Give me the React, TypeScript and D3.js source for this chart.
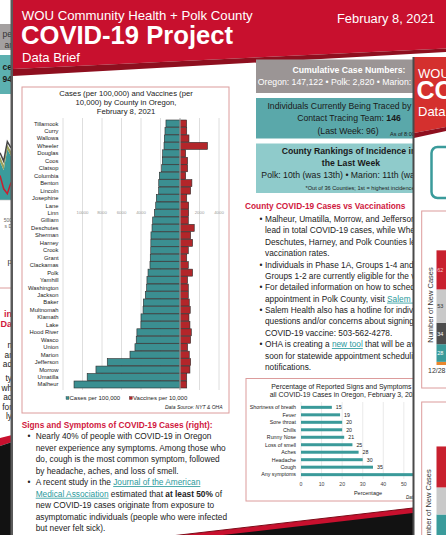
import React from "react";
import * as d3 from "d3";

// ---- county chart data ----
const counties = ["Tillamook", "Curry", "Wallowa", "Wheeler", "Douglas", "Coos", "Clatsop", "Columbia", "Benton", "Lincoln", "Josephine", "Lane", "Linn", "Gilliam", "Deschutes", "Sherman", "Harney", "Crook", "Grant", "Clackamas", "Polk", "Yamhill", "Washington", "Jackson", "Baker", "Multnomah", "Klamath", "Lake", "Hood River", "Wasco", "Union", "Marion", "Jefferson", "Morrow", "Umatilla", "Malheur"];
const casesPer100k = [1440, 1540, 1610, 1640, 1780, 1810, 1880, 2120, 2180, 2190, 2430, 2490, 2630, 2800, 2870, 2980, 2990, 3000, 3050, 3080, 3280, 3390, 3420, 3560, 3760, 3790, 4000, 4010, 4420, 4490, 4620, 5130, 7460, 8620, 9520, 10870];
const vaccinesPer10k = [680, 690, 920, 2820, 580, 780, 780, 580, 1220, 1090, 690, 890, 890, 850, 1460, 1090, 1290, 850, 690, 850, 1290, 780, 850, 850, 950, 1050, 920, 1020, 1160, 1090, 780, 950, 1090, 1020, 690, 690];
const gridTicks = [-12000, -10000, -8000, -6000, -4000, -2000, 0, 2000, 4000];
const labelTicks = [-10000, -8000, -6000, -4000, -2000, 0, 2000, 4000];

// ---- symptoms chart data ----
const symptoms = ["Shortness of breath", "Fever", "Sore throat", "Chills", "Runny Nose", "Loss of smell", "Aches", "Headache", "Cough", "Any symptoms"];
const symptomPct = [15, 19, 20, 20, 21, 25, 28, 30, 35, 61];
const pctTicks = [0, 10, 20, 30, 40, 50, 60];

// ---- right-hand page, new cases stacks ----
const week1Values = [5, 28, 34, 53, 62];
const week1Colors = ["#e8862e", "#3a9b9b", "#4d4d4d", "#c9c9c9", "#c8202e"];
const week1LabelColors = ["#fff", "#fff", "#fff", "#333", "#f6caca"];
const week2Values = [50, 43, 65];
const week2Colors = ["#3a9b9b", "#c9c9c9", "#c8202e"];

// ---- left-hand page, area chart fragment ----
const leftTeal = [1100, 850, 1450, 1250];
const leftOlive = [150, 150, 130, 140];
const leftGray = [100, 110, 90, 100];
const leftRed = [700, 320, 180, 500];

const FONT = "'Liberation Sans', Arial, Helvetica, sans-serif";
const TEXT = "#222";
const RED_HEAD = "#d0173d";
const LINK = "#2a9a9c";
const PINK = "#dc9c9c";
const BANNER = "#c8102e";

const leftBullets = [
  "*Nearly 40% of people with COVID-19 in Oregon",
  "never experience any symptoms. Among those who",
  "do, cough is the most common symptom, followed",
  "by headache, aches, and loss of smell.",
  "*A recent study in the [[Journal of the American]]",
  "[[Medical Association]] estimated that **at least 50%** of",
  "new COVID-19 cases originate from exposure to",
  "asymptomatic individuals (people who were infected",
  "but never felt sick).",
];

const rightBullets = [
  "*Malheur, Umatilla, Morrow, and Jefferson Counties",
  "lead in total COVID-19 cases, while Wheeler,",
  "Deschutes, Harney, and Polk Counties lead in",
  "vaccination rates.",
  "*Individuals in Phase 1A, Groups 1-4 and Phase 1B,",
  "Groups 1-2 are currently eligible for the vaccine.",
  "*For detailed information on how to schedule an",
  "appointment in Polk County, visit [[Salem Health]].",
  "*Salem Health also has a hotline for individuals with",
  "questions and/or concerns about signing up for the",
  "COVID-19 vaccine: 503-562-4278.",
  "*OHA is creating a [[new tool]] that will be available",
  "soon for statewide appointment scheduling and",
  "notifications.",
];

function renderParagraph(lines: string[], x0: number, bx: number, y0: number, step: number, size: number) {
  return lines.map((raw, i) => {
    const bullet = raw.startsWith("*");
    const body = bullet ? raw.slice(1) : raw;
    const parts = body.split(/(\[\[.*?\]\]|\*\*.*?\*\*)/).filter((p) => p.length);
    const yy = y0 + i * step;
    return (
      <g key={i}>
        {bullet && (
          <text x={bx} y={yy} fontSize={size} fill={TEXT}>•</text>
        )}
        <text x={x0} y={yy} fontSize={size} fill={TEXT} style={{ whiteSpace: "pre" }}>
          {parts.map((p, j) => {
            if (p.startsWith("[[")) {
              return (
                <tspan key={j} fill={LINK} style={{ textDecoration: "underline" }}>{p.slice(2, -2)}</tspan>
              );
            }
            if (p.startsWith("**")) {
              return <tspan key={j} fontWeight="bold">{p.slice(2, -2)}</tspan>;
            }
            return <tspan key={j}>{p}</tspan>;
          })}
        </text>
      </g>
    );
  });
}

export default function App() {
  // county chart scales
  const x = d3.scaleLinear().domain([-12000, 4000]).range([63, 219]);
  const y = d3.scaleBand<string>().domain(counties).range([120, 388]).paddingInner(0.06);
  const bw = y.bandwidth();

  // symptoms chart scales
  const sx = d3.scaleLinear().domain([0, 70]).range([301, 445]);
  const sy = d3.scaleBand<string>().domain(symptoms).range([403.6, 478.4]);

  // right page stacks
  const n1 = d3.scaleLinear().domain([0, 180]).range([365, 251.6]);
  const n2 = d3.scaleLinear().domain([0, 180]).range([546, 432.6]);
  const cum1 = Array.from(d3.cumsum(week1Values));
  const cum2 = Array.from(d3.cumsum(week2Values));

  // left page fragment
  const lx = d3.scaleLinear().domain([0, 3]).range([0, 11]);
  const ly = d3.scaleLinear().domain([0, 3000]).range([200, 95]);
  const oliveTop = leftTeal.map((v, i) => v + leftOlive[i]);
  const grayTop = oliveTop.map((v, i) => v + leftGray[i]);
  const tealArea = d3.area<number>().x((_, i) => lx(i)).y0(ly(0)).y1((d) => ly(d))(leftTeal) || "";
  const oliveArea = d3.area<number>().x((_, i) => lx(i)).y0((_, i) => ly(leftTeal[i])).y1((d) => ly(d))(oliveTop) || "";
  const grayLine = d3.line<number>().x((_, i) => lx(i)).y((d) => ly(d))(grayTop) || "";
  const redLine = d3.line<number>().x((_, i) => lx(i)).y((d) => ly(d))(leftRed) || "";

  return (
    <svg width={446} height={535} style={{ position: "absolute", left: 0, top: 0, display: "block", background: "#fff" }} fontFamily={FONT}>
      <rect x={0} y={0} width={446} height={535} fill="#fff" />

      {/* ---------- left page strip ---------- */}
      <g>
        <rect x={0} y={24} width={12} height={26} fill="#a4a0a0" />
        <text x={12} y={37} fontSize={8.5} textAnchor="end" fill="#333">pe</text>
        <text x={12} y={48} fontSize={8.5} textAnchor="end" fill="#333">ar</text>
        <rect x={0} y={55} width={12} height={39} fill="#5cb0b0" />
        <text x={12} y={70} fontSize={8.5} fontWeight="bold" textAnchor="end" fill="#1a1a1a">ce</text>
        <text x={12} y={82} fontSize={8.5} fontWeight="bold" textAnchor="end" fill="#1a1a1a">94</text>
        <path d={tealArea} fill="#3a9b9b" />
        <path d={oliveArea} fill="#9aa05a" />
        <path d={grayLine} fill="none" stroke="#444" strokeWidth={1.5} />
        <path d={redLine} fill="none" stroke="#c8202e" strokeWidth={1.5} />
        <line x1={0} x2={12} y1={200} y2={200} stroke="#bbb" strokeWidth={0.6} />
        <text x={12} y={222} fontSize={5} textAnchor="end" fill="#666">500</text>
        <text x={12} y={228} fontSize={5} textAnchor="end" fill="#666">s D</text>
        <text x={12} y={264} fontSize={8} textAnchor="end" fill="#333">p</text>
        <line x1={0} x2={12} y1={288} y2={288} stroke={PINK} strokeWidth={1} />
        <text x={12} y={317} fontSize={9} fontWeight="bold" textAnchor="end" fill={RED_HEAD}>in</text>
        <text x={12} y={327} fontSize={9} fontWeight="bold" textAnchor="end" fill={RED_HEAD}>Da</text>
        {["n", "ar", "ad"].map((t, i) => (
          <text key={t} x={12} y={348 + i * 9.7} fontSize={8.3} textAnchor="end" fill={TEXT}>{t}</text>
        ))}
        {["ty", "wh", "ac", "for", "ly"].map((t, i) => (
          <text key={t} x={12} y={381 + i * 9.6} fontSize={8.3} textAnchor="end" fill={TEXT}>{t}</text>
        ))}
        <polygon points="0,438 12,435 12,442 0,446" fill={BANNER} />
        <polygon points="0,446 12,442 12,535 0,535" fill="#121212" />
      </g>
      <rect x={10.5} y={0} width={2.5} height={535} fill="#5a5a5a" />

      {/* ---------- main page banner ---------- */}
      <polygon points="13,0 446,0 446,48.4 13,69" fill={BANNER} />
      <polygon points="13,69 446,48.4 446,52 13,76" fill="#8e0f1f" />
      <text x={21.7} y={20} fontSize={13.5} fill="#fff" textLength={231} lengthAdjust="spacingAndGlyphs">WOU Community Health + Polk County</text>
      <text x={21} y={44} fontSize={25} fontWeight="bold" fill="#fff" textLength={212} lengthAdjust="spacingAndGlyphs">COVID-19 Project</text>
      <text x={22} y={61.5} fontSize={13} fill="#fff" textLength={58} lengthAdjust="spacingAndGlyphs">Data Brief</text>
      <text x={337} y={22.5} fontSize={12.5} fill="#fff" textLength={98} lengthAdjust="spacingAndGlyphs">February 8, 2021</text>

      {/* ---------- county bar chart ---------- */}
      <rect x={22} y={87} width={207} height={326} fill="#fff" stroke={PINK} strokeWidth={1} />
      <g fontSize={7.7} fill={TEXT} textAnchor="middle">
        <text x={126} y={95.5}>Cases (per 100,000) and Vaccines (per</text>
        <text x={126} y={104.5}>10,000) by County in Oregon,</text>
        <text x={126} y={114}>February 8, 2021</text>
      </g>
      {gridTicks.map((t) => (
        <line key={t} x1={x(t)} x2={x(t)} y1={118} y2={390} stroke="#dedede" strokeWidth={1} />
      ))}
      {labelTicks.map((t) => (
        <text key={t} x={x(t)} y={213.5} fontSize={4.3} textAnchor="middle" fill="#999">{Math.abs(t)}</text>
      ))}
      {counties.map((c, i) => (
        <g key={c}>
          <rect x={x(-casesPer100k[i])} y={y(c)} width={x(0) - x(-casesPer100k[i])} height={bw} fill="#3b8f91" stroke="#2a2a2a" strokeWidth={0.6} />
          <rect x={x(0)} y={y(c)} width={x(vaccinesPer10k[i]) - x(0)} height={bw} fill="#b3262a" stroke="#2a2a2a" strokeWidth={0.6} />
          <text x={58.5} y={(y(c) || 0) + bw / 2 + 2} fontSize={5.8} textAnchor="end" fill={TEXT}>{c}</text>
        </g>
      ))}
      <line x1={x(0)} x2={x(0)} y1={118} y2={390} stroke="#b8b8b8" strokeWidth={1} />
      <rect x={66} y={396.5} width={3} height={3} fill="#3b8f91" stroke="#2a2a2a" strokeWidth={0.3} />
      <text x={69.5} y={400.3} fontSize={6} fill={TEXT}>Cases per 100,000</text>
      <rect x={129.3} y={396.5} width={3} height={3} fill="#b3262a" stroke="#2a2a2a" strokeWidth={0.3} />
      <text x={133} y={400.3} fontSize={6} fill={TEXT}>Vaccines per 10,000</text>
      <text x={222.5} y={409} fontSize={5} fontStyle="italic" textAnchor="end" fill={TEXT}>Data Source: NYT &amp; OHA</text>

      {/* ---------- left column text ---------- */}
      <text x={21.7} y={428} fontSize={8.3} fontWeight="bold" fill={RED_HEAD}>Signs and Symptoms of COVID-19 Cases (right):</text>
      {renderParagraph(leftBullets, 35.7, 27.5, 439, 11.55, 8.3)}

      {/* ---------- right column boxes ---------- */}
      <rect x={256} y={59.5} width={190} height={33.5} fill="#9b9595" />
      <text x={349} y={73} fontSize={8.7} fontWeight="bold" fill="#fff" textAnchor="middle">Cumulative Case Numbers:</text>
      <text x={349} y={85} fontSize={8.7} fill="#fff" textAnchor="middle">Oregon: 147,122 • Polk: 2,820 • Marion: 16,371</text>

      <rect x={256} y={98} width={190} height={40.5} fill="#5aa8aa" />
      <g fontSize={8.7} fill="#1a1a1a" textAnchor="middle">
        <text x={349} y={109}>Individuals Currently Being Traced by Polk</text>
        <text x={349} y={121.3}>Contact Tracing Team: <tspan fontWeight="bold">146</tspan></text>
        <text x={348} y={133.7}>(Last Week: 96)</text>
      </g>
      <text x={390} y={135.5} fontSize={5.5} fill="#1a1a1a">As of 8:00 a.m.</text>

      <rect x={256} y={143.5} width={190} height={49.5} fill="#8fcbcb" />
      <g fill="#1a1a1a" textAnchor="middle">
        <text x={349} y={153.8} fontSize={8.7} fontWeight="bold">County Rankings of Incidence in</text>
        <text x={351} y={165.8} fontSize={8.7} fontWeight="bold">the Last Week</text>
        <text x={349} y={178.1} fontSize={8.7}>Polk: 10th (was 13th) • Marion: 11th (was 9th)</text>
        <text x={360} y={190.3} fontSize={5.6}>*Out of 36 Counties; 1st = highest incidence</text>
      </g>

      <text x={245} y={209} fontSize={8.3} fontWeight="bold" fill={RED_HEAD}>County COVID-19 Cases vs Vaccinations</text>
      {renderParagraph(rightBullets, 265, 259.5, 222, 11.38, 8.3)}

      {/* ---------- symptoms chart ---------- */}
      <rect x={246} y={378.5} width={200} height={122.5} fill="#fff" stroke={PINK} strokeWidth={1} />
      <g fontSize={6.9} fill={TEXT} textAnchor="middle">
        <text x={345} y={389}>Percentage of Reported Signs and Symptoms in</text>
        <text x={345} y={396.5}>all COVID-19 Cases in Oregon, February 3, 2021</text>
      </g>
      {pctTicks.map((t) => (
        <g key={t}>
          <line x1={sx(t)} x2={sx(t)} y1={402} y2={479} stroke="#e4e4e4" strokeWidth={0.8} />
          <text x={sx(t)} y={486.3} fontSize={5.2} textAnchor="middle" fill="#444">{t}</text>
        </g>
      ))}
      {symptoms.map((s, i) => {
        const cy = (sy(s) || 0) + sy.bandwidth() / 2;
        return (
          <g key={s}>
            <text x={296} y={cy + 1.8} fontSize={5.3} textAnchor="end" fill={TEXT}>{s}</text>
            <rect x={sx(0)} y={cy - 1.5} width={sx(symptomPct[i]) - sx(0)} height={3} fill="#3a9a9a" />
            <text x={sx(symptomPct[i]) + 4} y={cy + 1.8} fontSize={5.3} fill={TEXT}>{symptomPct[i]}</text>
          </g>
        );
      })}
      <text x={368} y={494.8} fontSize={5.5} textAnchor="middle" fill={TEXT}>Percentage</text>
      <text x={406} y={499} fontSize={4.5} fontStyle="italic" fill={TEXT}>Data Source: OHA</text>

      {/* bottom swoosh */}
      <polygon points="171,536 413,508 413,536" fill={BANNER} />
      <line x1={171} y1={536} x2={413} y2={508} stroke="#7c0b18" strokeWidth={1} />
      <polygon points="214,536 413,513 413,536" fill="#121212" />

      {/* ---------- right page overlapping ---------- */}
      <rect x={414} y={57} width={32} height={478} fill="#fff" />
      <polygon points="414,57 446,57 446,127 414,133" fill="#d4302e" />
      <polygon points="414,133 446,127 446,131 414,138" fill="#8e0f1f" />
      <text x={418} y={78} fontSize={13} fill="#fff">WOU</text>
      <text x={416.5} y={99} fontSize={25} fontWeight="bold" fill="#fff">CO</text>
      <text x={418} y={115.5} fontSize={13} fill="#fff">Data</text>
      <rect x={431.5} y={147} width={40} height={51} rx={6} fill="none" stroke="#3a9b9b" strokeWidth={2.5} />

      <rect x={421.7} y={211} width={40} height={177} fill="none" stroke={PINK} strokeWidth={1} />
      <text transform="translate(432.5,305) rotate(-90)" fontSize={7.5} textAnchor="middle" fill="#333">Number of New Cases</text>
      {week1Values.map((v, i) => {
        const y0 = n1(cum1[i] - v);
        const y1 = n1(cum1[i]);
        return (
          <g key={i}>
            <rect x={436.5} y={y1} width={12} height={y0 - y1} fill={week1Colors[i]} />
            {v > 10 && (
              <text x={437.3} y={(y0 + y1) / 2 + 2} fontSize={5.5} fill={week1LabelColors[i]}>{v}</text>
            )}
          </g>
        );
      })}
      <text x={428} y={373} fontSize={7} fill="#333">12/28</text>

      <rect x={421.7} y={402} width={40} height={150} fill="none" stroke={PINK} strokeWidth={1} />
      <text transform="translate(431,507) rotate(-90)" fontSize={7.5} textAnchor="middle" fill="#333">Number of New Cases</text>
      {week2Values.map((v, i) => {
        const y0 = n2(cum2[i] - v);
        const y1 = n2(cum2[i]);
        return <rect key={i} x={436.5} y={y1} width={12} height={y0 - y1} fill={week2Colors[i]} />;
      })}

      <rect x={412.5} y={57} width={2} height={478} fill="#4a4a4a" />
    </svg>
  );
}
